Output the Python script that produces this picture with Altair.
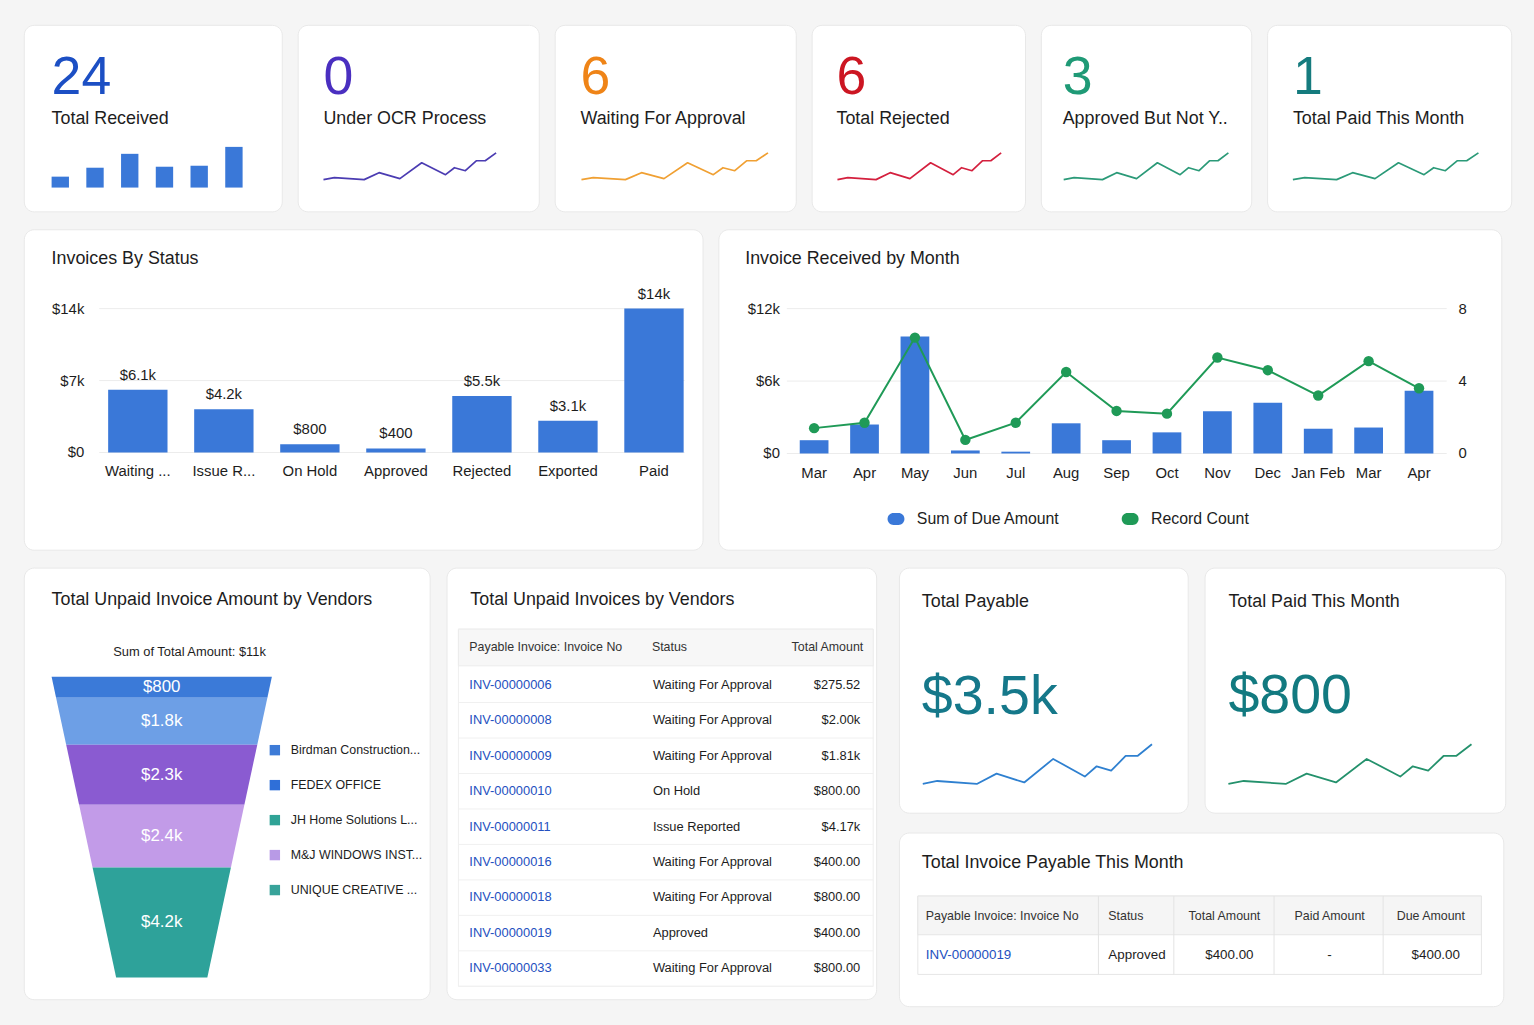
import altair as alt
import pandas as pd

FONT = "Liberation Sans"
INK = "#1d1d1d"
BAR_BLUE = "#3a78d8"
LINE_GREEN = "#1f9a57"
LINK_BLUE = "#2450c0"
GRID = "#ececec"

# ---------------- data ----------------
KPI_VALUES = ["24", "0", "6", "6", "3", "1"]
KPI_LABELS = ["Total Received", "Under OCR Process", "Waiting For Approval",
              "Total Rejected", "Approved But Not Y..", "Total Paid This Month"]
RECEIVED_BARS = [11, 20, 34, 21, 22, 41]
SPARK_X = [0, 11, 41, 56, 77, 99, 123, 132, 143, 154, 163, 174]
SPARK_Y = [2, 4, 2, 9, 3, 19, 7, 14, 11, 21, 21, 29]

STATUS = ["Waiting ...", "Issue R...", "On Hold", "Approved", "Rejected", "Exported", "Paid"]
STATUS_AMT = [6100, 4200, 800, 400, 5500, 3100, 14000]
STATUS_LBL = ["$6.1k", "$4.2k", "$800", "$400", "$5.5k", "$3.1k", "$14k"]
STATUS_TICKS = [0, 7000, 14000]
STATUS_TICK_LBL = ["$0", "$7k", "$14k"]

MONTHS = ["Mar", "Apr", "May", "Jun", "Jul", "Aug", "Sep", "Oct", "Nov", "Dec", "Jan Feb", "Mar", "Apr"]
DUE = [1100, 2400, 9700, 250, 150, 2500, 1100, 1750, 3500, 4200, 2050, 2150, 5200]
COUNT = [1.4, 1.7, 6.4, 0.75, 1.7, 4.5, 2.35, 2.2, 5.3, 4.6, 3.2, 5.1, 3.6]
DUE_TICKS = [0, 6000, 12000]
DUE_TICK_LBL = ["$0", "$6k", "$12k"]
COUNT_TICKS = [0, 4, 8]
LEGEND_SERIES = ["Sum of Due Amount", "Record Count"]

VENDORS = ["Birdman Construction...", "FEDEX OFFICE", "JH Home Solutions L...",
           "M&J WINDOWS INST...", "UNIQUE CREATIVE ..."]
FUNNEL_AMT = [800, 1800, 2300, 2400, 4200]
FUNNEL_LBL = ["$800", "$1.8k", "$2.3k", "$2.4k", "$4.2k"]
FUNNEL_TOTAL_LBL = "Sum of Total Amount: $11k"

INV_NO = ["INV-00000006", "INV-00000008", "INV-00000009", "INV-00000010", "INV-00000011",
          "INV-00000016", "INV-00000018", "INV-00000019", "INV-00000033"]
INV_STATUS = ["Waiting For Approval", "Waiting For Approval", "Waiting For Approval", "On Hold",
              "Issue Reported", "Waiting For Approval", "Waiting For Approval", "Approved",
              "Waiting For Approval"]
INV_TOTAL = ["$275.52", "$2.00k", "$1.81k", "$800.00", "$4.17k", "$400.00", "$800.00", "$400.00", "$800.00"]
TABLE1_HEAD = ["Payable Invoice: Invoice No", "Status", "Total Amount"]

PAYABLE_TOTAL = "$3.5k"
PAID_MONTH_TOTAL = "$800"

MONTH_COLS = ["Payable Invoice: Invoice No", "Status", "Total Amount", "Paid Amount", "Due Amount"]
MONTH_ROW = ["INV-00000019", "Approved", "$400.00", "-", "$400.00"]

# ---------------- style ----------------
NUM_COLORS = ["#1c4fc4", "#4a2fc0", "#ef8417", "#cc1622", "#1f9a76", "#157b7e"]
LINE_COLORS = ["", "#4b3cb2", "#f0a033", "#d4203e", "#2b9a78", "#2b9a78"]
CARD_W = [260, 243, 243, 215, 212, 246]
TEXT_X = [28, 26, 26, 25, 22, 26]
SPARK_RANGE = [None, (26, 200), (27, 215), (26, 191), (23, 189), (26, 213)]
SEG_COLORS = ["#3b7ad8", "#6d9fe6", "#8a5bd1", "#c29be8", "#2ea29a"]
LEG_COLORS = ["#3d7bd7", "#2f6fd8", "#2fa396", "#b89ae6", "#38a39a"]
PILL = "M-0.3,-0.7L0.3,-0.7A0.7,0.7 0 0 1 0.3,0.7L-0.3,0.7A0.7,0.7 0 0 1 -0.3,-0.7Z"


def one(v):
    return pd.DataFrame({"t": [v]})


def text_at(s, x, y, size=18, color=INK, align="left", baseline="middle"):
    return alt.Chart(one(s)).mark_text(
        align=align, baseline=baseline, font=FONT, fontSize=size, color=color
    ).encode(x=alt.value(x), y=alt.value(y), text="t:N")


def rect_at(x, x2, y, y2, fill, stroke):
    return alt.Chart(one("r")).mark_rect(fill=fill, stroke=stroke, strokeWidth=1).encode(
        x=alt.value(x), x2=alt.value(x2), y=alt.value(y), y2=alt.value(y2))


def vrule_at(x, y, y2, color):
    return alt.Chart(one("r")).mark_rule(color=color, strokeWidth=1).encode(
        x=alt.value(x), y=alt.value(y), y2=alt.value(y2))


spark_df = pd.DataFrame({"sx": SPARK_X, "sy": SPARK_Y})
SX_DOM = [min(SPARK_X), max(SPARK_X)]
SY_DOM = [0, max(SPARK_Y)]


def sparkline(x0, x1, y0, y1, color, width=1.7):
    return alt.Chart(spark_df).mark_line(color=color, strokeWidth=width, strokeJoin="round").encode(
        x=alt.X("sx:Q", axis=None, scale=alt.Scale(domain=SX_DOM, range=[x0, x1], nice=False, zero=False)),
        y=alt.Y("sy:Q", axis=None, scale=alt.Scale(domain=SY_DOM, range=[y0, y1], nice=False, zero=False)),
    )


# ---------------- row 1: KPI cards ----------------
rb_df = pd.DataFrame({"i": list(range(len(RECEIVED_BARS))), "v": RECEIVED_BARS})
received_bars = alt.Chart(rb_df).mark_bar(color=BAR_BLUE).encode(
    x=alt.X("i:O", axis=None, scale=alt.Scale(type="band", domain=list(range(len(RECEIVED_BARS))),
                                              range=[28, 220.5], paddingInner=0.5, paddingOuter=0)),
    y=alt.Y("v:Q", axis=None, scale=alt.Scale(domain=[0, max(RECEIVED_BARS)], range=[164, 123], nice=False)),
)

row1_cards = []
for i in range(6):
    layers = [
        text_at(KPI_VALUES[i], TEXT_X[i], 70, size=54, color=NUM_COLORS[i], baseline="alphabetic"),
        text_at(KPI_LABELS[i], TEXT_X[i], 95, size=18),
    ]
    if i == 0:
        layers.append(received_bars)
    else:
        layers.append(sparkline(SPARK_RANGE[i][0], SPARK_RANGE[i][1], 158, 129, LINE_COLORS[i]))
    row1_cards.append(alt.layer(*layers).properties(width=CARD_W[i], height=188))
row1 = alt.hconcat(*row1_cards, spacing=14)

# ---------------- row 2a: invoices by status ----------------
st_df = pd.DataFrame({"status": STATUS, "amt": STATUS_AMT, "lbl": STATUS_LBL})
st_tk = pd.DataFrame({"v": STATUS_TICKS, "l": STATUS_TICK_LBL})
sx = alt.Scale(type="band", domain=STATUS, range=[85, 665], paddingInner=0.31, paddingOuter=0)
sy = alt.Scale(domain=[STATUS_TICKS[0], STATUS_TICKS[-1]], range=[225, 80], nice=False, zero=False)

status_card = alt.layer(
    text_at("Invoices By Status", 28, 30),
    alt.Chart(st_tk).mark_rule(color=GRID).encode(
        y=alt.Y("v:Q", scale=sy, axis=None), x=alt.value(76), x2=alt.value(666)),
    alt.Chart(st_tk).mark_text(align="right", baseline="middle", font=FONT, fontSize=15, color=INK).encode(
        y=alt.Y("v:Q", scale=sy, axis=None), x=alt.value(61), text="l:N"),
    alt.Chart(st_df).mark_bar(color=BAR_BLUE).encode(
        x=alt.X("status:N", scale=sx, axis=None), y=alt.Y("amt:Q", scale=sy, axis=None)),
    alt.Chart(st_df).mark_text(baseline="bottom", dy=-7, font=FONT, fontSize=15, color=INK).encode(
        x=alt.X("status:N", scale=sx, axis=None), y=alt.Y("amt:Q", scale=sy, axis=None), text="lbl:N"),
    alt.Chart(st_df).mark_text(baseline="middle", font=FONT, fontSize=15, color=INK).encode(
        x=alt.X("status:N", scale=sx, axis=None), y=alt.value(244), text="status:N"),
).properties(width=684, height=323)

# ---------------- row 2b: invoice received by month ----------------
IDX = list(range(len(MONTHS)))
m_df = pd.DataFrame({"idx": IDX, "month": MONTHS, "due": DUE, "cnt": COUNT})
due_tk = pd.DataFrame({"v": DUE_TICKS, "l": DUE_TICK_LBL})
cnt_tk = pd.DataFrame({"v": COUNT_TICKS, "l": [str(c) for c in COUNT_TICKS]})
mx = alt.Scale(type="band", domain=IDX, range=[82, 720.6], paddingInner=0.43, paddingOuter=0)
my_due = alt.Scale(domain=[DUE_TICKS[0], DUE_TICKS[-1]], range=[226, 80], nice=False, zero=False)
my_cnt = alt.Scale(domain=[COUNT_TICKS[0], COUNT_TICKS[-1]], range=[226, 80], nice=False, zero=False)
leg_df = pd.DataFrame({"s": LEGEND_SERIES})
lx = alt.Scale(type="point", domain=LEGEND_SERIES, range=[179, 415], padding=0)

month_card = alt.layer(
    text_at("Invoice Received by Month", 27, 30),
    alt.Chart(due_tk).mark_rule(color=GRID).encode(
        y=alt.Y("v:Q", scale=my_due, axis=None), x=alt.value(69), x2=alt.value(734)),
    alt.Chart(due_tk).mark_text(align="right", baseline="middle", font=FONT, fontSize=15, color=INK).encode(
        y=alt.Y("v:Q", scale=my_due, axis=None), x=alt.value(62), text="l:N"),
    alt.Chart(cnt_tk).mark_text(align="center", baseline="middle", font=FONT, fontSize=15, color=INK).encode(
        y=alt.Y("v:Q", scale=my_cnt, axis=None), x=alt.value(750), text="l:N"),
    alt.Chart(m_df).mark_bar(color=BAR_BLUE).encode(
        x=alt.X("idx:O", scale=mx, axis=None), y=alt.Y("due:Q", scale=my_due, axis=None)),
    alt.Chart(m_df).mark_line(color=LINE_GREEN, strokeWidth=2).encode(
        x=alt.X("idx:O", scale=mx, axis=None), y=alt.Y("cnt:Q", scale=my_cnt, axis=None)),
    alt.Chart(m_df).mark_point(filled=True, size=110, color=LINE_GREEN, opacity=1).encode(
        x=alt.X("idx:O", scale=mx, axis=None), y=alt.Y("cnt:Q", scale=my_cnt, axis=None)),
    alt.Chart(m_df).mark_text(baseline="middle", font=FONT, fontSize=15, color=INK).encode(
        x=alt.X("idx:O", scale=mx, axis=None), y=alt.value(246), text="month:N"),
    alt.Chart(leg_df).mark_point(shape=PILL, filled=True, size=289, opacity=1).encode(
        x=alt.X("s:N", scale=lx, axis=None), y=alt.value(292),
        fill=alt.Fill("s:N", scale=alt.Scale(domain=LEGEND_SERIES, range=[BAR_BLUE, LINE_GREEN]), legend=None)),
    alt.Chart(leg_df).mark_text(align="left", baseline="middle", dx=21, font=FONT, fontSize=16, color=INK).encode(
        x=alt.X("s:N", scale=lx, axis=None), y=alt.value(292), text="s:N"),
).resolve_scale(x="independent", y="independent").properties(width=789, height=323)

row2 = alt.hconcat(status_card, month_card, spacing=14)

# ---------------- row 3a: funnel ----------------
total = sum(FUNNEL_AMT)
f_rows, f_lbl = [], []
start = 0
for v, a, l in zip(VENDORS, FUNNEL_AMT, FUNNEL_LBL):
    f_rows.append({"vendor": v, "c": start})
    f_rows.append({"vendor": v, "c": start + a})
    f_lbl.append({"vendor": v, "mid": start + a / 2, "lbl": l})
    start += a
f_df = pd.DataFrame(f_rows)
fl_df = pd.DataFrame(f_lbl)
TAPER = 0.414
fx = alt.Scale(domain=[-1, 1], range=[28, 250], nice=False, zero=False)
fy = alt.Scale(domain=[0, total], range=[110, 413], nice=False, zero=False)
vend_df = pd.DataFrame({"vendor": VENDORS})
vy = alt.Scale(type="point", domain=VENDORS, range=[184, 325], padding=0)

funnel_area = (
    alt.Chart(f_df)
    .transform_calculate(half=f"1 - {1 - TAPER} * datum.c / {total}")
    .transform_calculate(left="-datum.half")
    .mark_area(orient="horizontal", opacity=1)
    .encode(
        y=alt.Y("c:Q", scale=fy, axis=None),
        x=alt.X("left:Q", scale=fx, axis=None, stack=None),
        x2="half:Q",
        color=alt.Color("vendor:N", scale=alt.Scale(domain=VENDORS, range=SEG_COLORS), legend=None),
    )
)

funnel_card = alt.layer(
    text_at("Total Unpaid Invoice Amount by Vendors", 28, 33),
    text_at(FUNNEL_TOTAL_LBL, 167, 85, size=13, align="center"),
    funnel_area,
    alt.Chart(fl_df).mark_text(baseline="middle", font=FONT, fontSize=17, color="white").encode(
        y=alt.Y("mid:Q", scale=fy, axis=None), x=alt.value(139), text="lbl:N"),
    alt.Chart(vend_df).mark_point(shape="square", filled=True, size=110, opacity=1).encode(
        y=alt.Y("vendor:N", scale=vy, axis=None), x=alt.value(253),
        fill=alt.Fill("vendor:N", scale=alt.Scale(domain=VENDORS, range=LEG_COLORS), legend=None)),
    alt.Chart(vend_df).mark_text(align="left", baseline="middle", font=FONT, fontSize=12.5, color=INK).encode(
        y=alt.Y("vendor:N", scale=vy, axis=None), x=alt.value(269), text="vendor:N"),
).resolve_scale(y="independent").properties(width=409, height=435)

# ---------------- row 3b: unpaid invoice table ----------------
t_df = pd.DataFrame({"inv": INV_NO, "status": INV_STATUS, "total": INV_TOTAL})
ty = alt.Scale(type="point", domain=INV_NO, range=[118, 404], padding=0)
ty_sep = alt.Scale(type="point", domain=INV_NO, range=[136, 422], padding=0)

table_card = alt.layer(
    text_at("Total Unpaid Invoices by Vendors", 24, 33),
    rect_at(12, 430, 62, 422, "white", "#efefef"),
    rect_at(12, 430, 62, 99, "#f7f7f7", "#ececec"),
    text_at(TABLE1_HEAD[0], 23, 80, size=12.5, color="#333333"),
    text_at(TABLE1_HEAD[1], 207, 80, size=12.5, color="#333333"),
    text_at(TABLE1_HEAD[2], 420, 80, size=12.5, color="#333333", align="right"),
    alt.Chart(t_df).mark_rule(color="#f0f0f0").encode(
        y=alt.Y("inv:N", scale=ty_sep, axis=None), x=alt.value(12), x2=alt.value(430)),
    alt.Chart(t_df).mark_text(align="left", baseline="middle", font=FONT, fontSize=13, color=LINK_BLUE).encode(
        y=alt.Y("inv:N", scale=ty, axis=None), x=alt.value(23), text="inv:N"),
    alt.Chart(t_df).mark_text(align="left", baseline="middle", font=FONT, fontSize=13, color=INK).encode(
        y=alt.Y("inv:N", scale=ty, axis=None), x=alt.value(208), text="status:N"),
    alt.Chart(t_df).mark_text(align="right", baseline="middle", font=FONT, fontSize=13, color=INK).encode(
        y=alt.Y("inv:N", scale=ty, axis=None), x=alt.value(417), text="total:N"),
).resolve_scale(y="independent").properties(width=433, height=435)

# ---------------- row 3c: payable KPI cards ----------------
TEAL = "#15788a"
payable_card = alt.layer(
    text_at("Total Payable", 23, 35),
    text_at(PAYABLE_TOTAL, 23, 148, size=56, color=TEAL, baseline="alphabetic"),
    sparkline(24, 255, 221, 178, "#2f80d0", width=1.8),
).properties(width=291, height=247)

paid_card = alt.layer(
    text_at("Total Paid This Month", 24, 35),
    text_at(PAID_MONTH_TOTAL, 24, 147, size=56, color="#127a80", baseline="alphabetic"),
    sparkline(24, 269, 221, 178, "#24916c", width=1.8),
).properties(width=303, height=247)

# ---------------- row 3d: payable this month table ----------------
COL_X = [27, 211, 328, 434, 536]
ROW_X = [27, 211, 333, 434, 541]
COL_ALIGN = ["left", "left", "center", "center", "center"]
SEP_X = [201, 277, 378, 488]
month_layers = [
    text_at("Total Invoice Payable This Month", 23, 31),
    rect_at(19, 587, 64, 143, "white", "#e6e6e6"),
    rect_at(19, 587, 64, 103, "#f5f5f5", "#e6e6e6"),
]
for sxp in SEP_X:
    month_layers.append(vrule_at(sxp, 64, 143, "#e3e3e3"))
for j, col in enumerate(MONTH_COLS):
    month_layers.append(text_at(col, COL_X[j], 84, size=12.5, color="#333333", align=COL_ALIGN[j]))
    month_layers.append(text_at(MONTH_ROW[j], ROW_X[j], 123, size=13.5,
                                color=LINK_BLUE if j == 0 else INK, align=COL_ALIGN[j]))
month_table_card = alt.layer(*month_layers).properties(width=609, height=175)

right_col = alt.vconcat(alt.hconcat(payable_card, paid_card, spacing=15), month_table_card, spacing=18)
row3 = alt.hconcat(alt.hconcat(funnel_card, table_card, spacing=15), right_col, spacing=21)

chart = (
    alt.vconcat(row1, row2, row3, spacing=16)
    .resolve_scale(color="independent", fill="independent")
    .properties(padding={"left": 23, "top": 20, "right": 22, "bottom": 20}, background="#f5f5f5")
    .configure_view(fill="white", stroke="#e8e8e8", strokeWidth=1, cornerRadius=10)
)

chart.save("out.html", embed_options={"renderer": "svg", "actions": False})
